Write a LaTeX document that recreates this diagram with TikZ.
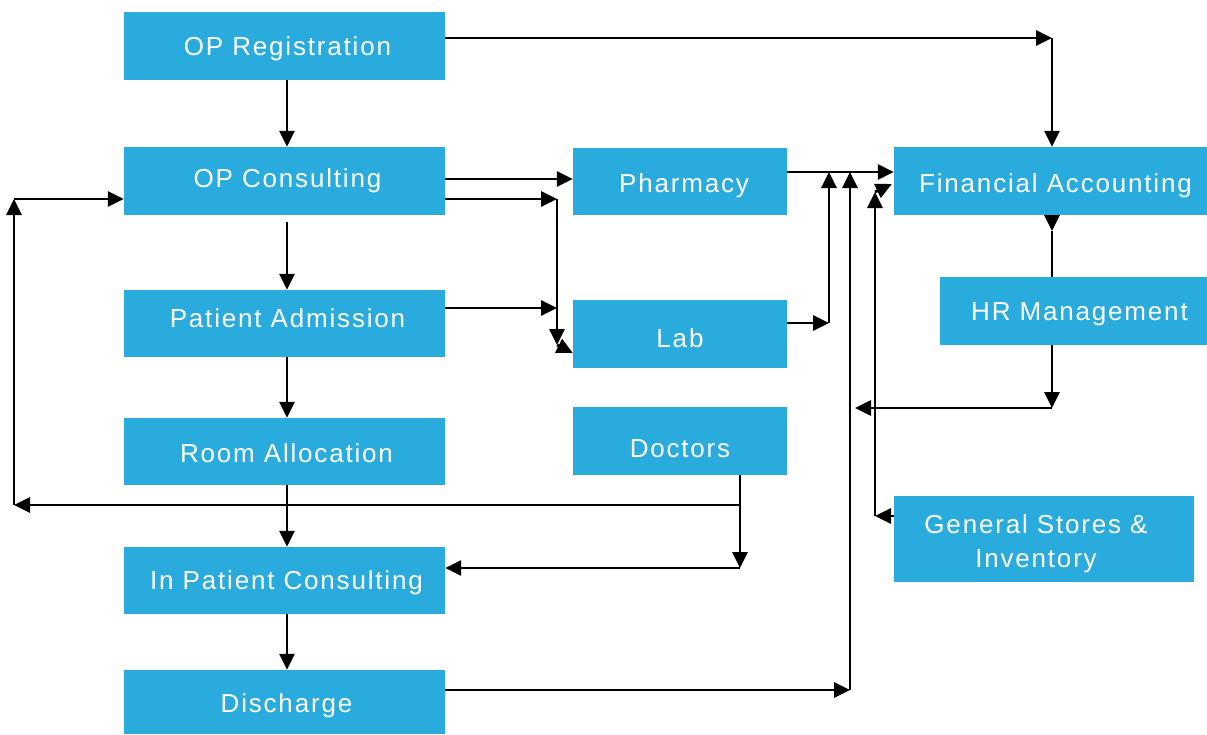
\documentclass[tikz,border=0pt]{standalone}
\usepackage{fontspec}
\newfontfamily\boxfont{Liberation Sans}[LetterSpace=7]
\usetikzlibrary{arrows.meta}
\definecolor{boxblue}{RGB}{41,171,221}
\begin{document}
\begin{tikzpicture}[x=1pt,y=-1pt,
 box/.style={fill=boxblue, inner sep=0pt},
 txt/.style={text=white, inner sep=0pt, font=\boxfont\fontsize{26}{34}\selectfont, align=center, text height=18.6pt, text depth=0pt},
 arr/.style={line width=2.8pt, -{Triangle[length=16pt,width=15pt]}},
 ln/.style={line width=2.8pt}]
\useasboundingbox (0,0) rectangle (1207,734);
% left column
\node[box, minimum width=321pt, minimum height=68pt] (reg)  at (284.5,46)    {};
\node[box, minimum width=321pt, minimum height=68pt] (cons) at (284.5,181)   {};
\node[box, minimum width=321pt, minimum height=67pt] (adm)  at (284.5,323.5) {};
\node[box, minimum width=321pt, minimum height=67pt] (room) at (284.5,451.5) {};
\node[box, minimum width=321pt, minimum height=67pt] (ipc)  at (284.5,580.5) {};
\node[box, minimum width=321pt, minimum height=64pt] (dis)  at (284.5,702)   {};
% middle column
\node[box, minimum width=214pt, minimum height=67pt] (pharm) at (680,181.5) {};
\node[box, minimum width=214pt, minimum height=68pt] (lab)   at (680,334)   {};
\node[box, minimum width=214pt, minimum height=68pt] (doc)   at (680,441)   {};
% right column
\node[box, minimum width=313pt, minimum height=68pt] (fin) at (1050.5,181) {};
\node[box, minimum width=267pt, minimum height=68pt] (hr)  at (1073.5,311) {};
\node[box, minimum width=300pt, minimum height=86pt] (gs)  at (1044,539)   {};

% texts
\node[txt] (reg-t)   at ([xshift=3pt]reg.center)            {OP Registration};
\node[txt] (cons-t)  at ([xshift=3pt,yshift=3pt]cons.center) {OP Consulting};
\node[txt] (adm-t)   at ([xshift=3pt,yshift=5pt]adm.center)  {Patient Admission};
\node[txt] (room-t)  at ([xshift=2pt,yshift=-1.5pt]room.center) {Room Allocation};
\node[txt] (ipc-t)   at ([xshift=2pt]ipc.center)            {In Patient Consulting};
\node[txt] (dis-t)   at ([xshift=2pt,yshift=-1pt]dis.center) {Discharge};
\node[txt] (pharm-t) at ([xshift=4pt,yshift=-1.5pt]pharm.center) {Pharmacy};
\node[txt] (lab-t)   at ([yshift=-4pt]lab.center)  {Lab};
\node[txt] (doc-t)   at ([yshift=-7pt]doc.center)  {Doctors};
\node[txt] (fin-t)   at ([xshift=5pt,yshift=-2pt]fin.center)  {Financial Accounting};
\node[txt] (hr-t)    at ([xshift=6pt]hr.center)    {HR Management};
\node[txt, text height=52.6pt] (gs-t) at ([xshift=-8pt,yshift=-2pt]gs.center) {General Stores \&\\Inventory};

% helper coordinates
\coordinate (xm) at (287,0);
\coordinate (c1) at (1052,38);
\coordinate (yph) at (0,179);
\coordinate (a1) at (557,199);
\coordinate (a2) at (557,345);
\coordinate (a4) at (557,308);
\coordinate (d1) at (740,505);
\coordinate (d2) at (740,568);
\coordinate (l1) at (14,505);
\coordinate (l2) at (14,199);
\coordinate (f1) at (0,172);
\coordinate (b1) at (829,323);
\coordinate (b2) at (829,172);
\coordinate (e1) at (850,690);
\coordinate (e2) at (850,172);
\coordinate (g1) at (875,516);
\coordinate (g2) at (875,192);
\coordinate (h1) at (1052,408);
\coordinate (h2) at (855,408);
\coordinate (h3) at (1052,231);

% OP Registration -> Financial Accounting
\draw[arr] (reg.east |- c1) -- (c1);
\draw[arr] (c1) -- (fin.north -| c1);
% vertical flow
\draw[arr] (reg.south -| xm) -- (cons.north -| xm);
\draw[arr] ([yshift=-7pt]cons.south -| xm) -- (adm.north -| xm);
\draw[arr] (adm.south -| xm) -- (room.north -| xm);
\draw[arr] (room.south -| xm) -- (ipc.north -| xm);
\draw[arr] (ipc.south -| xm) -- (dis.north -| xm);
% OP Consulting -> Pharmacy / Lab
\draw[arr] (cons.east |- yph) -- (pharm.west |- yph);
\draw[arr] (cons.east |- a1) -- (a1);
\draw[arr] (a1) -- (a2);
\draw[arr] (a2) -- ([yshift=-19pt]lab.west);
\draw[arr] (adm.east |- a4) -- (a4);
% Doctors
\draw[ln] (doc.south -| d1) -- (d1);
\draw[arr] (d1) -- (d2);
\draw[arr] (d2) -- (ipc.east |- d2);
\draw[arr] (d1) -- (l1);
\draw[arr] (l1) -- (l2);
\draw[arr] (l2) -- (cons.west |- l2);
% into Financial Accounting
\draw[arr] (pharm.east |- f1) -- (fin.west |- f1);
\draw[arr] (lab.east |- b1) -- (b1);
\draw[arr] (b1) -- (b2);
\draw[arr] (dis.east |- e1) -- (e1);
\draw[arr] (e1) -- (e2);
\draw[arr] (gs.west |- g1) -- (g1);
\draw[arr] (g1) -- (g2);
\draw[arr] (g2) -- ([xshift=-2pt,yshift=-3pt]fin.west);
% HR Management
\draw[arr] (hr.south -| h1) -- (h1);
\draw[arr] (h1) -- (h2);
\draw[arr] (fin.south -| h3) -- (h3);
\draw[ln] (h3) -- (hr.north -| h3);
\end{tikzpicture}
\end{document}
